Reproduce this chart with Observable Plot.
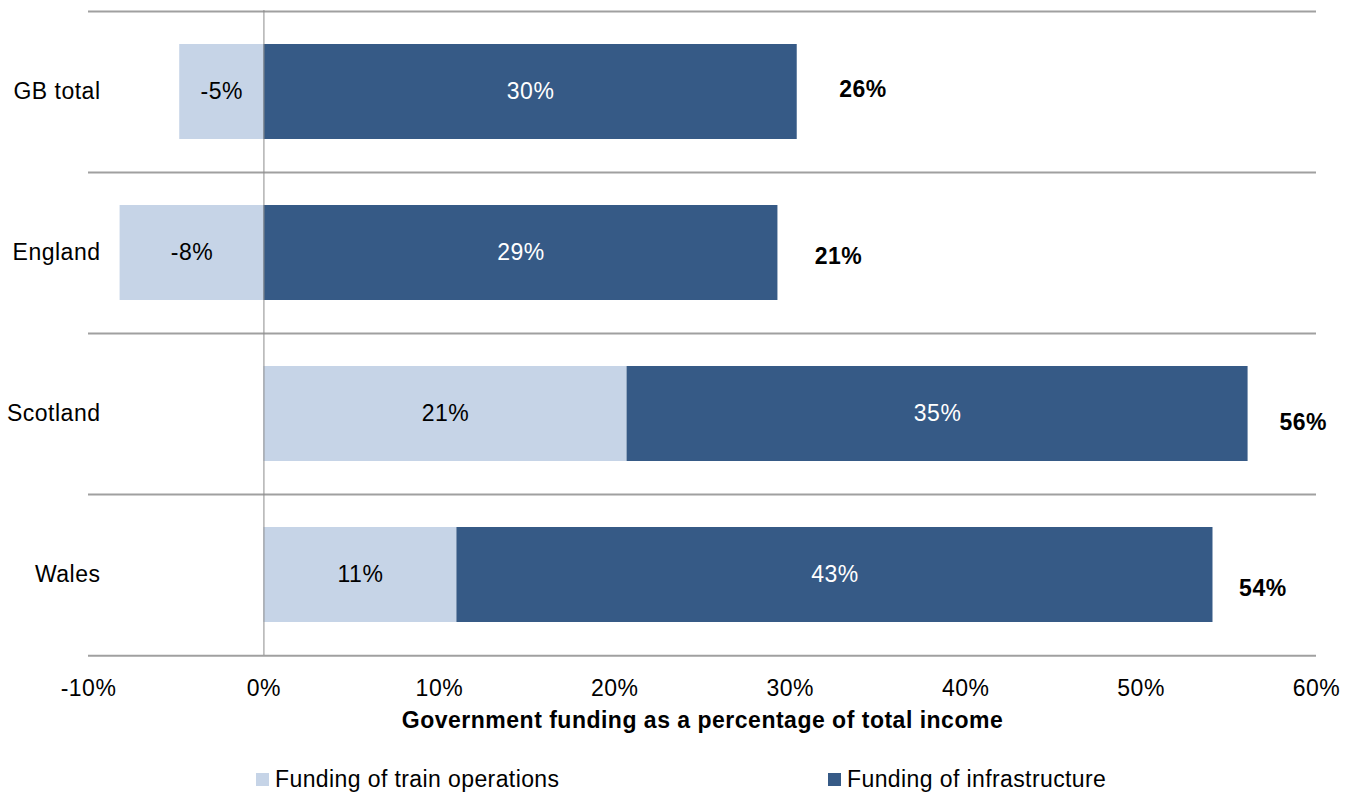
<!DOCTYPE html>
<html>
<head>
<meta charset="utf-8">
<script src="https://cdn.jsdelivr.net/npm/d3@7"></script>
<script src="https://cdn.jsdelivr.net/npm/@observablehq/plot@0.6"></script>
<style>
  body { margin: 0; background: #fff; font-family: "Liberation Sans", Arial, sans-serif; }
  svg text { letter-spacing: 0.5px; }
  #legend { position: relative; height: 44px; font-size: 23px; color: #000; letter-spacing: 0.4px; }
  .item { position: absolute; top: 16px; display: flex; align-items: center; white-space: nowrap; }
  .sw { width: 13px; height: 13px; margin-right: 6px; }
</style>
</head>
<body>
<div id="chart"></div>
<div id="legend"></div>
<script>
const regions = ["GB total", "England", "Scotland", "Wales"];
const trainOps = [-4.8, -8.2, 20.7, 11.0];
const infrastructure = [30.4, 29.3, 35.4, 43.1];
const seriesNames = ["Funding of train operations", "Funding of infrastructure"];
const seriesColors = ["#c6d4e7", "#365a86"];
const xTicks = [-10, 0, 10, 20, 30, 40, 50, 60];
const xTitle = "Government funding as a percentage of total income";

const rows = [];
regions.forEach((r, i) => {
  rows.push({region: r, series: seriesNames[0], value: trainOps[i]});
  rows.push({region: r, series: seriesNames[1], value: infrastructure[i]});
});
const totals = regions.map((r, i) => ({
  region: r,
  end: Math.max(0, trainOps[i]) + infrastructure[i],
  total: trainOps[i] + infrastructure[i]
}));

const W = 1357, H = 750, mT = 10, mB = 95, mL = 88, mR = 41;
const step = (H - mT - mB) / regions.length;
const font = `"Liberation Sans", Arial, sans-serif`;
const fmt = v => Math.round(v) + "%";

const chart = Plot.plot({
  width: W, height: H,
  marginTop: mT, marginBottom: mB, marginLeft: mL, marginRight: mR,
  style: {fontSize: "23px", fontFamily: font, color: "#000", background: "#fff"},
  x: {domain: [-10, 60], ticks: xTicks, tickFormat: d => d + "%"},
  y: {domain: regions, padding: 0},
  color: {domain: seriesNames, range: seriesColors},
  marks: [
    Plot.ruleY(regions, {y: d => d, dy: -step / 2, stroke: "#a0a0a0", strokeWidth: 2}),
    Plot.ruleY([regions[regions.length - 1]], {y: d => d, dy: step / 2, stroke: "#a0a0a0", strokeWidth: 2}),
    Plot.barX(rows, {x: "value", y: "region", fill: "series", insetTop: 33, insetBottom: 33}),
    Plot.ruleX([0], {stroke: "#8c8c8c", strokeWidth: 1}),
    Plot.text(rows, Plot.stackX({x: "value", y: "region", text: d => d.series === seriesNames[0] ? fmt(d.value) : "", fill: "#000", fontSize: 23})),
    Plot.text(rows, Plot.stackX({x: "value", y: "region", text: d => d.series === seriesNames[1] ? fmt(d.value) : "", fill: "#fff", fontSize: 23})),
    ...regions.map((r, i) => Plot.text(totals.filter(d => d.region === r), {
      x: "end", y: "region", text: d => fmt(d.total), textAnchor: "start",
      dx: 42 - 5.3 * i, dy: -2 + 5.2 * i, fontWeight: "bold", fontSize: 23, fill: "#000"
    })),
    Plot.axisX({ticks: xTicks, tickFormat: d => d + "%", tickSize: 0, tickPadding: 24, label: null, fontSize: 23}),
    Plot.axisY({tickSize: 0, tickPadding: 0, dx: 12, label: null, fontSize: 23}),
    Plot.text([xTitle], {frameAnchor: "bottom", text: d => d, dy: 72, fontWeight: "bold", fontSize: 23, fill: "#000"})
  ]
});
document.getElementById("chart").appendChild(chart);

const legend = document.getElementById("legend");
const lefts = [256, 828];
seriesNames.forEach((s, i) => {
  const it = document.createElement("div");
  it.className = "item";
  it.style.left = lefts[i] + "px";
  it.innerHTML = `<span class="sw" style="background:${seriesColors[i]}"></span><span>${s}</span>`;
  legend.appendChild(it);
});
</script>
</body>
</html>
